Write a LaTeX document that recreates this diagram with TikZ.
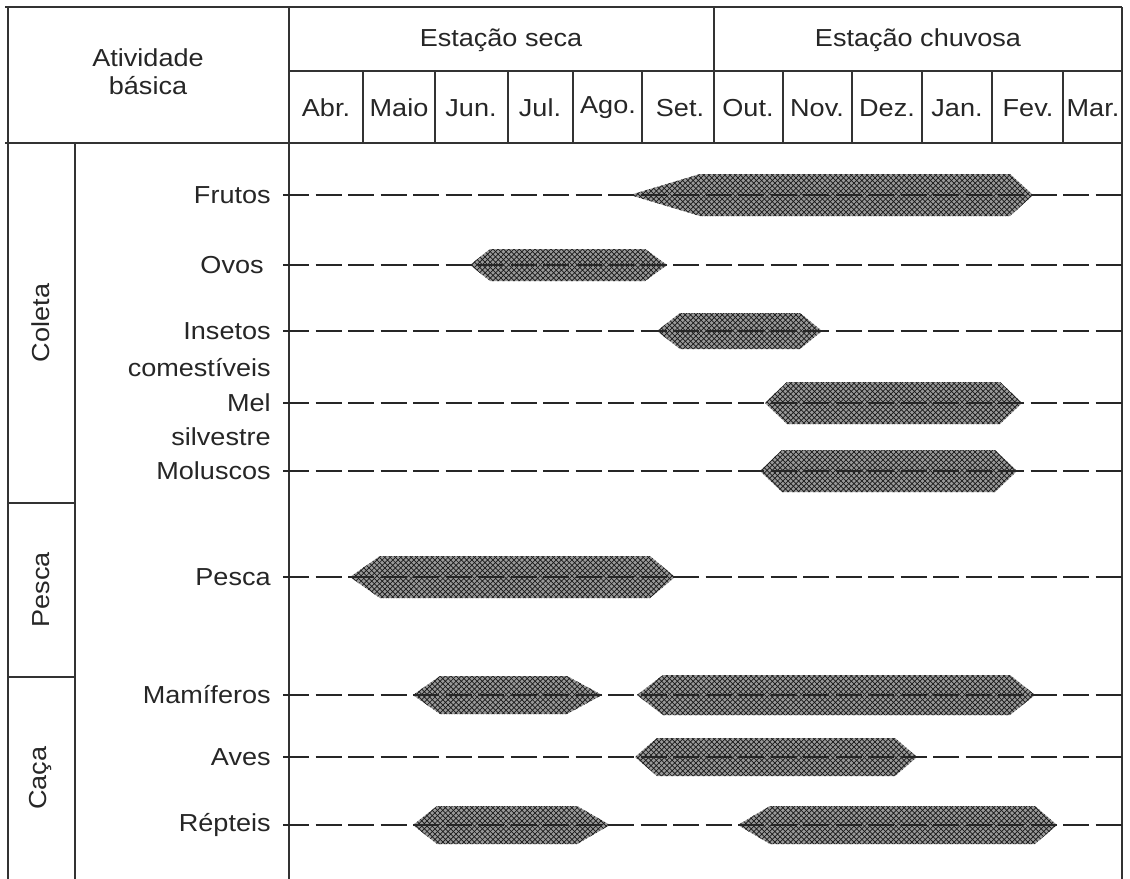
\documentclass[tikz,border=0pt]{standalone}
\usepackage{fontspec}
\setmainfont{Liberation Sans}[FakeStretch=1.1]
\usetikzlibrary{patterns}

\begin{document}
\begin{tikzpicture}[x=0.02cm,y=-0.02cm,
  rule/.style={draw=black!80,line width=1pt},
  rowline/.style={draw=black!85,line width=1pt,dash pattern=on 15pt off 3.5pt},
  lbl/.style={font=\fontsize{14}{16}\selectfont,text=black!85,inner sep=0pt},
  bar/.style={preaction={fill=black!40},pattern=crosshatch,pattern color=black!90}]
\useasboundingbox (0,0) rectangle (1130,879);
% frame
\draw[rule] (5,7) -- (1122,7);
\draw[rule] (289,71) -- (1122,71);
\draw[rule] (5,143) -- (1122,143);
\draw[rule] (8,7) -- (8,879);
\draw[rule] (75,143) -- (75,879);
\draw[rule] (289,7) -- (289,879);
\draw[rule] (1122,7) -- (1122,879);
\draw[rule] (714,7) -- (714,143);
\draw[rule] (363,71) -- (363,143);
\draw[rule] (435,71) -- (435,143);
\draw[rule] (508,71) -- (508,143);
\draw[rule] (573,71) -- (573,143);
\draw[rule] (642,71) -- (642,143);
\draw[rule] (783,71) -- (783,143);
\draw[rule] (852,71) -- (852,143);
\draw[rule] (922,71) -- (922,143);
\draw[rule] (992,71) -- (992,143);
\draw[rule] (1063,71) -- (1063,143);
\draw[rule] (8,503) -- (75,503);
\draw[rule] (8,677) -- (75,677);
% header
\node[lbl,align=center] (ativ) at (148,72) {Atividade\\básica};
\node[lbl] (seca) at (501,40) {Estação seca};
\node[lbl] (chuvosa) at (918,40) {Estação chuvosa};
\node[lbl] (mabr) at (326,108) {Abr.};
\node[lbl] (mmaio) at (399,108) {Maio};
\node[lbl] (mjun) at (471,108) {Jun.};
\node[lbl] (mjul) at (540,108) {Jul.};
\node[lbl] (mago) at (608,108) {Ago.};
\node[lbl] (mset) at (680,108) {Set.};
\node[lbl] (mout) at (748,108) {Out.};
\node[lbl] (mnov) at (817,108) {Nov.};
\node[lbl] (mdez) at (887,108) {Dez.};
\node[lbl] (mjan) at (957,108) {Jan.};
\node[lbl] (mfev) at (1028,108) {Fev.};
\node[lbl] (mmar) at (1093,108) {Mar.};
% categories
\node[lbl,rotate=90] (coleta) at (41,323) {Coleta};
\node[lbl,rotate=90] (pesca) at (41,590) {Pesca};
\node[lbl,rotate=90] (caca) at (41,778) {Caça};
% row labels
\node[lbl,anchor=east] (rfrutos) at (271,195) {Frutos};
\node[lbl,anchor=east] (rovos) at (264,265) {Ovos};
\node[lbl,anchor=east] (rinsetos) at (271,331) {Insetos};
\node[lbl,anchor=east] (rcomest) at (271,368) {comestíveis};
\node[lbl,anchor=east] (rmel) at (271,403) {Mel};
\node[lbl,anchor=east] (rsilv) at (271,437) {silvestre};
\node[lbl,anchor=east] (rmolus) at (271,471) {Moluscos};
\node[lbl,anchor=east] (rpesca) at (271,577) {Pesca};
\node[lbl,anchor=east] (rmamif) at (271,695) {Mamíferos};
\node[lbl,anchor=east] (raves) at (271,757) {Aves};
\node[lbl,anchor=east] (rrept) at (271,825) {Répteis};
% bars
\fill[bar] (630,195) .. controls (660,186) .. (700,174) -- (1010,174) -- (1033,195) -- (1010,216) -- (700,216) .. controls (660,204) .. (630,195) -- cycle;
\fill[bar] (470,265) -- (490,249) -- (645,249) -- (667,265) -- (645,281) -- (490,281) -- cycle;
\fill[bar] (657,331) -- (680,313) -- (800,313) -- (822,331) -- (800,349) -- (680,349) -- cycle;
\fill[bar] (765,403) -- (787,382) -- (1000,382) -- (1022,403) -- (1000,424) -- (787,424) -- cycle;
\fill[bar] (760,471) -- (782,450) -- (995,450) -- (1017,471) -- (995,492) -- (782,492) -- cycle;
\fill[bar] (350,577) -- (380,556) -- (650,556) -- (675,577) -- (650,598) -- (380,598) -- cycle;
\fill[bar] (413,695) -- (440,676) -- (567,676) -- (602,695) -- (567,714) -- (440,714) -- cycle;
\fill[bar] (637,695) -- (663,675) -- (1010,675) -- (1035,695) -- (1010,715) -- (663,715) -- cycle;
\fill[bar] (635,757) -- (657,738) -- (895,738) -- (917,757) -- (895,776) -- (657,776) -- cycle;
\fill[bar] (413,825) -- (437,806) -- (577,806) -- (610,825) -- (577,844) -- (437,844) -- cycle;
\fill[bar] (738,825) -- (770,806) -- (1035,806) -- (1057,825) -- (1035,844) -- (770,844) -- cycle;
% row lines
\draw[rowline] (283,195) -- (1122,195);
\draw[rowline] (283,265) -- (1122,265);
\draw[rowline] (283,331) -- (1122,331);
\draw[rowline] (283,403) -- (1122,403);
\draw[rowline] (283,471) -- (1122,471);
\draw[rowline] (283,577) -- (1122,577);
\draw[rowline] (283,695) -- (1122,695);
\draw[rowline] (283,757) -- (1122,757);
\draw[rowline] (283,825) -- (1122,825);
\end{tikzpicture}
\end{document}
